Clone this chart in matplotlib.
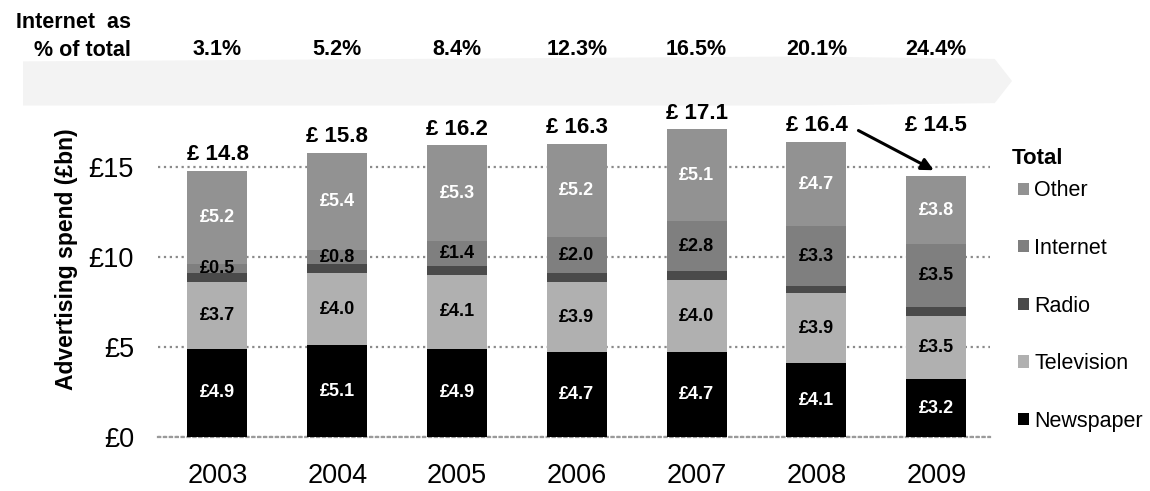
import matplotlib.pyplot as plt
import numpy as np
from matplotlib.patches import Polygon
from matplotlib.transforms import blended_transform_factory

plt.rcParams['font.family'] = ['Liberation Sans', 'DejaVu Sans']

years = ['2003', '2004', '2005', '2006', '2007', '2008', '2009']
series = ['Newspaper', 'Television', 'Radio', 'Internet', 'Other']
newspaper = [4.9, 5.1, 4.9, 4.7, 4.7, 4.1, 3.2]
television = [3.7, 4.0, 4.1, 3.9, 4.0, 3.9, 3.5]
radio = [0.5, 0.5, 0.5, 0.5, 0.5, 0.4, 0.5]
internet = [0.5, 0.8, 1.4, 2.0, 2.8, 3.3, 3.5]
other = [5.2, 5.4, 5.3, 5.2, 5.1, 4.7, 3.8]
totals = [14.8, 15.8, 16.2, 16.3, 17.1, 16.4, 14.5]
internet_share = [3.1, 5.2, 8.4, 12.3, 16.5, 20.1, 24.4]

colors = ['#000000', '#b0b0b0', '#4a4a4a', '#7f7f7f', '#929292']
label_colors = ['white', 'black', None, 'black', 'white']

fig = plt.figure(figsize=(11.5, 4.91), dpi=100)
ax = fig.add_axes([0.137, 0.110, 0.724, 0.6415])
ax.patch.set_alpha(0)

x = np.arange(len(years))
values = [newspaper, television, radio, internet, other]
bottom = np.zeros(len(years))
handles = []
for vals, name, col, lcol in zip(values, series, colors, label_colors):
    vals = np.array(vals)
    bars = ax.bar(x, vals, 0.5, bottom=bottom, color=col, label=name, zorder=3)
    handles.append(bars)
    if lcol is not None:
        for xi, v, b in zip(x, vals, bottom):
            ax.text(xi, b + v / 2, f'£{v:.1f}', ha='center', va='center',
                    color=lcol, fontsize=13, fontweight='bold', zorder=4)
    bottom += vals

# totals above bars
for i, t in enumerate(totals):
    y = t + 0.9 if i < len(totals) - 1 else 17.3
    ax.text(x[i], y, f'£ {t:.1f}', ha='center', va='center', fontsize=16,
            fontweight='bold', clip_on=False, zorder=5)

# arrow from 2008 total to 2009 bar
ax.annotate('', xy=(x[6], totals[6] + 0.25), xytext=(x[5] + 0.33, 17.1),
            arrowprops=dict(arrowstyle='-|>', color='black', lw=2.2,
                            mutation_scale=18), annotation_clip=False)

ax.set_xlim(-0.5, 6.45)
ax.set_ylim(0, 17.5)
ax.set_yticks([0, 5, 10, 15])
ax.set_yticklabels(['£0', '£5', '£10', '£15'], fontsize=19.5)
ax.set_xticks(x)
ax.set_xticklabels(years, fontsize=19.5)
ax.tick_params(axis='both', length=0)
ax.tick_params(axis='y', pad=17)
ax.tick_params(axis='x', pad=19)
ax.yaxis.grid(True, color='#8a8a8a', linestyle=':', linewidth=1.6, zorder=0)
for s in ['top', 'right', 'left']:
    ax.spines[s].set_visible(False)
ax.spines['bottom'].set_color('#9a9a9a')
ax.spines['bottom'].set_linestyle(':')
ax.spines['bottom'].set_linewidth(1.6)
ax.set_ylabel('Advertising spend (£bn)', fontsize=16.5, fontweight='bold')
ax.yaxis.set_label_coords(-0.096, 0.565)

# legend
leg = ax.legend(handles[::-1], series[::-1], loc='center left',
                bbox_to_anchor=(1018 / 1150, (491 - 306) / 491),
                bbox_transform=fig.transFigure, frameon=False, fontsize=15.5,
                borderpad=0, borderaxespad=0,
                handlelength=0.5, handleheight=0.5, handletextpad=0.25,
                labelspacing=1.7)
fig.text(1012 / 1150, (491 - 158) / 491, 'Total', ha='left', va='center',
         fontsize=16, fontweight='bold')

# faint band behind percentage row
band = Polygon([(0.02, 0.875), (0.70, 0.885), (0.865, 0.88), (0.88, 0.835),
                (0.865, 0.79), (0.70, 0.785), (0.02, 0.785)], closed=True,
               transform=fig.transFigure, facecolor='#f3f3f3', edgecolor='none',
               zorder=-1)
fig.patches.append(band)

# percentage row
trans = blended_transform_factory(ax.transData, fig.transFigure)
for xi, p in zip(x, internet_share):
    ax.text(xi, 0.90, f'{p:.1f}%', transform=trans, ha='center', va='center',
            fontsize=15.5, fontweight='bold', clip_on=False)
fig.text(0.114, 0.955, 'Internet  as', ha='right', va='center', fontsize=15.5,
         fontweight='bold')
fig.text(0.114, 0.898, '% of total', ha='right', va='center', fontsize=15.5,
         fontweight='bold')

fig.savefig('out.png', dpi=100)
